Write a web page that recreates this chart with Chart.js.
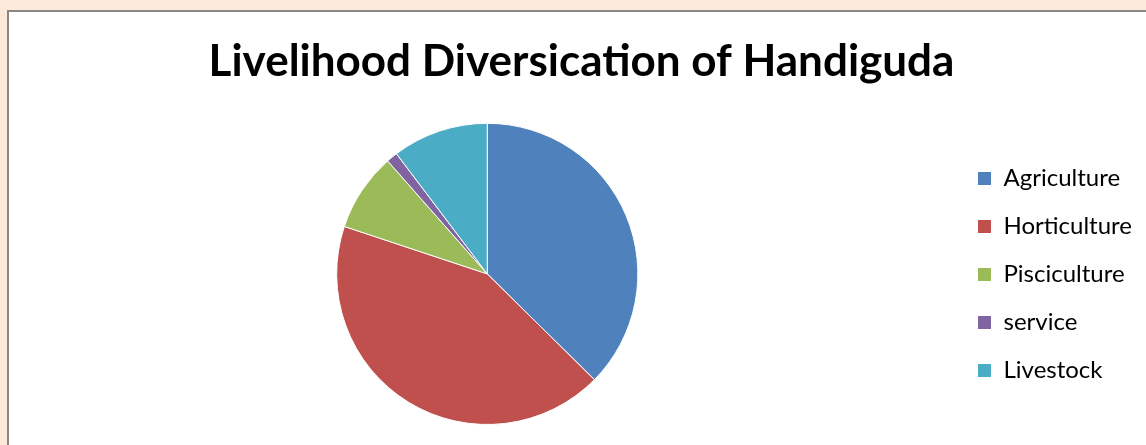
<!DOCTYPE html>
<html>
<head>
<meta charset="utf-8">
<script src="https://cdn.jsdelivr.net/npm/chart.js@4.4.1/dist/chart.umd.min.js"></script>
<style>
  html, body { margin: 0; padding: 0; background: #fde9d9; overflow: hidden; }
  #frame {
    position: absolute; left: 7px; top: 10px;
    width: 1148px; height: 450px;
    border: 2px solid #878787; background: #fff;
  }
</style>
</head>
<body>
<div id="frame"><canvas id="pieChart"></canvas></div>
<script>
// Dados
const titleText = 'Livelihood Diversication of Handiguda';
const categories = ['Agriculture', 'Horticulture', 'Pisciculture', 'service', 'Livestock'];
const shares = [37.4, 42.7, 8.4, 1.2, 10.3];
const sliceColors = ['#4f81bd', '#c0504d', '#9bbb59', '#8064a2', '#4bacc6'];

const ctx = document.getElementById('pieChart').getContext('2d');
const pieChart = new Chart(ctx, {
    type: 'pie',
    data: {
        labels: categories,
        datasets: [{
            data: shares,
            backgroundColor: sliceColors,
            borderColor: '#ffffff',
            borderWidth: 1
        }]
    },
    options: {
        responsive: true,
        maintainAspectRatio: false,
        animation: false,
        layout: { padding: { left: 12, right: 15, top: 0, bottom: 37 } },
        plugins: {
            title: {
                display: true,
                text: titleText,
                color: '#000',
                font: { family: 'Lato', size: 44, weight: 'bold' },
                padding: { top: 23, bottom: 35 }
            },
            legend: {
                position: 'right',
                // titulo vazio só para empurrar os itens para baixo
                title: { display: true, text: '', font: { size: 10 }, padding: { top: 100, bottom: 0 } },
                labels: {
                    color: '#000',
                    font: { family: 'Lato', size: 24 },
                    boxWidth: 14,
                    boxHeight: 14,
                    padding: 24
                }
            },
            tooltip: { enabled: false }
        }
    }
});
</script>
</body>
</html>
